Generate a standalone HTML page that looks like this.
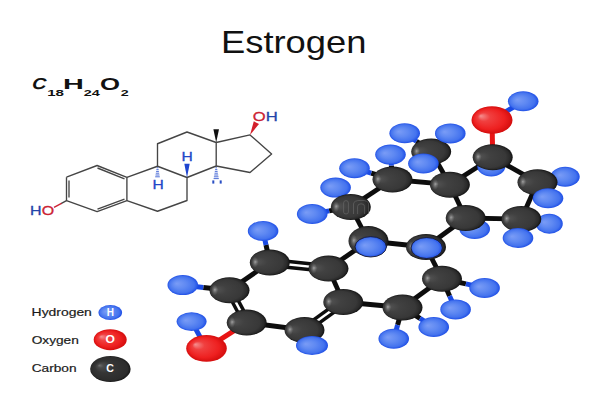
<!DOCTYPE html>
<html><head><meta charset="utf-8">
<style>
html,body{margin:0;padding:0;background:#fff;}
body{width:600px;height:400px;overflow:hidden;position:relative;font-family:"Liberation Sans",sans-serif;}
svg{position:absolute;left:0;top:0;}
</style></head><body>
<svg width="600" height="400" viewBox="0 0 600 400">
<defs>
<radialGradient id="gC" cx="0.5" cy="0.5" r="0.5" fx="0.13" fy="0.47">
<stop offset="0" stop-color="#6a6a6a"/><stop offset="0.12" stop-color="#4e4e4e"/><stop offset="0.35" stop-color="#414141"/><stop offset="0.8" stop-color="#383838"/><stop offset="0.92" stop-color="#2a2a2a"/><stop offset="1" stop-color="#121212"/>
</radialGradient>
<radialGradient id="gH" cx="0.5" cy="0.5" r="0.5" fx="0.3" fy="0.42">
<stop offset="0" stop-color="#7a9cf6"/><stop offset="0.45" stop-color="#5f89f2"/><stop offset="0.82" stop-color="#4473ee"/><stop offset="1" stop-color="#1f4fe6"/>
</radialGradient>
<radialGradient id="gO" cx="0.5" cy="0.5" r="0.5" fx="0.22" fy="0.35">
<stop offset="0" stop-color="#f59090"/><stop offset="0.3" stop-color="#f04040"/><stop offset="0.75" stop-color="#ee2020"/><stop offset="1" stop-color="#d40d0d"/>
</radialGradient>
<radialGradient id="gHi" cx="0.5" cy="0.5" r="0.5">
<stop offset="0" stop-color="#fff" stop-opacity="0.38"/><stop offset="0.5" stop-color="#fff" stop-opacity="0.16"/><stop offset="1" stop-color="#fff" stop-opacity="0"/>
</radialGradient>
<radialGradient id="gCL" cx="0.5" cy="0.5" r="0.5" fx="0.22" fy="0.36">
<stop offset="0" stop-color="#707070"/><stop offset="0.15" stop-color="#4a4a4a"/><stop offset="0.45" stop-color="#353535"/><stop offset="0.9" stop-color="#2c2c2c"/><stop offset="1" stop-color="#161616"/>
</radialGradient>
</defs>
<text transform="translate(221,52.9) scale(1.18,1)" font-family="Liberation Sans" font-size="30.8" fill="#111">Estrogen</text>
<g font-family="Liberation Sans" font-weight="bold" fill="#111">
<text transform="translate(31,89.3) scale(1.25,1) skewX(-12)" font-size="15.8">C</text>
<text transform="translate(47.2,95.5) scale(1.63,1)" font-size="9.3">18</text>
<text transform="translate(63,89) scale(1.9,1)" font-size="15.2">H</text>
<text transform="translate(83.7,95.5) scale(1.55,1)" font-size="9.3">24</text>
<text transform="translate(100,89.5) scale(1.64,1)" font-size="15.7">O</text>
<text transform="translate(120.7,95.5) scale(1.54,1)" font-size="9.3">2</text>
</g>
<g font-family="Liberation Sans" font-size="11.4" fill="#1a1a1a" stroke="#1a1a1a" stroke-width="0.2">
<text transform="translate(31.6,315.8) scale(1.22,1)">Hydrogen</text>
<text transform="translate(31.7,343.6) scale(1.2,1)">Oxygen</text>
<text transform="translate(31.7,371.8) scale(1.2,1)">Carbon</text>
</g>
<ellipse cx="110.3" cy="312.5" rx="11.8" ry="7.6" fill="url(#gH)"/>
<ellipse cx="110.2" cy="339.7" rx="16.5" ry="10.5" fill="url(#gO)"/>
<ellipse cx="110.4" cy="369" rx="20.2" ry="13.1" fill="url(#gCL)"/>
<g font-family="Liberation Sans" font-weight="bold" fill="#fff" text-anchor="middle">
<text x="110.3" y="316" font-size="10">H</text>
<text transform="translate(110.2,343.3) scale(1.15,1)" font-size="10.5">O</text>
<text x="110" y="372.2" font-size="10.6">C</text>
</g>
<g stroke="#454545" stroke-width="1.35" fill="none" stroke-linejoin="round">
<polyline points="66.5,177.2 97.1,165.5 126.9,177.4 126.9,200.6 97.1,211.6 66.5,200.6 66.5,177.2"/>
<line x1="69" y1="180.5" x2="69" y2="197.5"/>
<line x1="97.5" y1="168" x2="124.5" y2="178.8"/>
<line x1="97.5" y1="209.1" x2="124.5" y2="199.2"/>
<polyline points="126.9,177.4 157.5,166.25 187,177.5 187,200.5 157.5,211.25 126.9,200.6"/>
<polyline points="157.5,166.25 157.5,143.75 187,132 216.2,142.5 216.2,166 187,177.5"/>
<polyline points="216.2,142.5 250,134.9 271.6,154 250,172.5 216.2,166"/>
</g>
<line x1="66.5" y1="200.6" x2="61" y2="203.6" stroke="#454545" stroke-width="1.35"/>
<line x1="61.5" y1="203.3" x2="54" y2="207.4" stroke="#cc2233" stroke-width="1.35"/>
<polygon points="216.2,142.5 213.4,129.3 219,129.3" fill="#111"/>
<polygon points="250,134.9 253.8,121.3 259,124" fill="#d41f2a"/>
<polygon points="187,177.5 184.3,163.7 189.7,163.7" fill="#1f45d0"/>
<g stroke="#2f55d0" stroke-width="0.85">
<line x1="156.7" y1="167.8" x2="158.3" y2="167.8"/>
<line x1="156.4" y1="169.6" x2="158.6" y2="169.6"/>
<line x1="156.1" y1="171.4" x2="158.9" y2="171.4"/>
<line x1="155.8" y1="173.2" x2="159.2" y2="173.2"/>
<line x1="155.5" y1="175.0" x2="159.5" y2="175.0"/>
<line x1="155.2" y1="176.8" x2="159.8" y2="176.8"/>
<line x1="215.4" y1="167.8" x2="217.0" y2="167.8"/>
<line x1="215.1" y1="169.6" x2="217.3" y2="169.6"/>
<line x1="214.8" y1="171.4" x2="217.6" y2="171.4"/>
<line x1="214.5" y1="173.2" x2="217.9" y2="173.2"/>
<line x1="214.2" y1="175.0" x2="218.2" y2="175.0"/>
<line x1="213.9" y1="176.8" x2="218.5" y2="176.8"/>
<line x1="213.6" y1="178.6" x2="218.8" y2="178.6"/>
</g>
<g fill="#2a4fc4" stroke="none">
<rect x="212.3" y="180.4" width="2" height="3.2"/><rect x="219.7" y="180.4" width="2" height="3.2"/>
</g>
<g font-family="Liberation Sans" font-size="13.2" stroke-width="0.3">
<text transform="translate(30.1,214.6) scale(1.21,1)"><tspan fill="#2244aa" stroke="#2244aa">H</tspan><tspan fill="#cc2233" stroke="#cc2233">O</tspan></text>
<text transform="translate(252.7,121.4) scale(1.26,1)"><tspan fill="#cc2233" stroke="#cc2233">O</tspan><tspan fill="#2244aa" stroke="#2244aa">H</tspan></text>
<text transform="translate(152.6,189) scale(1.2,1)" fill="#2247c8" stroke="#2247c8" font-size="13">H</text>
<text transform="translate(181.6,161.3) scale(1.2,1)" fill="#2247c8" stroke="#2247c8" font-size="13">H</text>
</g>

<line x1="269.8" y1="262.5" x2="229.5" y2="290.3" stroke="#0d0d0d" stroke-width="4.8"/>
<line x1="246.7" y1="322.6" x2="304.5" y2="330.0" stroke="#0d0d0d" stroke-width="4.8"/>
<line x1="343.3" y1="302.0" x2="328.5" y2="268.6" stroke="#0d0d0d" stroke-width="4.8"/>
<line x1="328.5" y1="268.6" x2="368.5" y2="241.0" stroke="#0d0d0d" stroke-width="4.8"/>
<line x1="368.5" y1="241.0" x2="350.8" y2="207.0" stroke="#0d0d0d" stroke-width="4.8"/>
<line x1="368.5" y1="241.0" x2="426.0" y2="247.0" stroke="#0d0d0d" stroke-width="4.8"/>
<line x1="350.8" y1="207.0" x2="392.5" y2="179.5" stroke="#0d0d0d" stroke-width="4.8"/>
<line x1="392.5" y1="179.5" x2="449.9" y2="184.7" stroke="#0d0d0d" stroke-width="4.8"/>
<line x1="449.9" y1="184.7" x2="431.2" y2="151.6" stroke="#0d0d0d" stroke-width="4.8"/>
<line x1="449.9" y1="184.7" x2="492.7" y2="157.2" stroke="#0d0d0d" stroke-width="4.8"/>
<line x1="449.9" y1="184.7" x2="465.7" y2="218.0" stroke="#0d0d0d" stroke-width="4.8"/>
<line x1="465.7" y1="218.0" x2="426.0" y2="247.0" stroke="#0d0d0d" stroke-width="4.8"/>
<line x1="465.7" y1="218.0" x2="521.3" y2="219.0" stroke="#0d0d0d" stroke-width="4.8"/>
<line x1="521.3" y1="219.0" x2="537.5" y2="182.3" stroke="#0d0d0d" stroke-width="4.8"/>
<line x1="537.5" y1="182.3" x2="492.7" y2="157.2" stroke="#0d0d0d" stroke-width="4.8"/>
<line x1="426.0" y1="247.0" x2="442.0" y2="278.7" stroke="#0d0d0d" stroke-width="4.8"/>
<line x1="442.0" y1="278.7" x2="402.5" y2="307.5" stroke="#0d0d0d" stroke-width="4.8"/>
<line x1="402.5" y1="307.5" x2="343.3" y2="302.0" stroke="#0d0d0d" stroke-width="4.8"/>
<line x1="492.7" y1="157.2" x2="492.5" y2="146.0" stroke="#0d0d0d" stroke-width="5.0"/>
<line x1="492.5" y1="146.0" x2="492.0" y2="120.0" stroke="#e81414" stroke-width="5.0"/>
<line x1="492.0" y1="120.0" x2="501.4" y2="114.4" stroke="#e81414" stroke-width="5.0"/>
<line x1="501.4" y1="114.4" x2="523.2" y2="101.3" stroke="#1a4ae4" stroke-width="5.0"/>
<line x1="246.7" y1="322.6" x2="234.6" y2="330.3" stroke="#0d0d0d" stroke-width="5.0"/>
<line x1="234.6" y1="330.3" x2="206.5" y2="348.4" stroke="#e81414" stroke-width="5.0"/>
<line x1="206.5" y1="348.4" x2="202.0" y2="340.4" stroke="#e81414" stroke-width="5.0"/>
<line x1="202.0" y1="340.4" x2="191.6" y2="321.6" stroke="#1a4ae4" stroke-width="5.0"/>
<line x1="492.7" y1="157.2" x2="491.9" y2="162.4" stroke="#0d0d0d" stroke-width="5.0"/>
<line x1="491.9" y1="162.4" x2="491.3" y2="166.5" stroke="#1a4ae4" stroke-width="5.0"/>
<line x1="537.5" y1="182.3" x2="553.0" y2="179.2" stroke="#0d0d0d" stroke-width="5.0"/>
<line x1="553.0" y1="179.2" x2="565.2" y2="176.7" stroke="#1a4ae4" stroke-width="5.0"/>
<line x1="537.5" y1="182.3" x2="543.4" y2="191.2" stroke="#0d0d0d" stroke-width="5.0"/>
<line x1="543.4" y1="191.2" x2="548.0" y2="198.2" stroke="#1a4ae4" stroke-width="5.0"/>
<line x1="521.3" y1="219.0" x2="537.0" y2="221.6" stroke="#0d0d0d" stroke-width="5.0"/>
<line x1="537.0" y1="221.6" x2="549.3" y2="223.7" stroke="#1a4ae4" stroke-width="5.0"/>
<line x1="521.3" y1="219.0" x2="519.5" y2="229.6" stroke="#0d0d0d" stroke-width="5.0"/>
<line x1="519.5" y1="229.6" x2="518.0" y2="238.0" stroke="#1a4ae4" stroke-width="5.0"/>
<line x1="465.7" y1="218.0" x2="470.7" y2="224.2" stroke="#0d0d0d" stroke-width="5.0"/>
<line x1="470.7" y1="224.2" x2="474.7" y2="229.0" stroke="#1a4ae4" stroke-width="5.0"/>
<line x1="431.2" y1="151.6" x2="416.4" y2="141.3" stroke="#0d0d0d" stroke-width="5.0"/>
<line x1="416.4" y1="141.3" x2="404.7" y2="133.2" stroke="#1a4ae4" stroke-width="5.0"/>
<line x1="431.2" y1="151.6" x2="441.9" y2="141.4" stroke="#0d0d0d" stroke-width="5.0"/>
<line x1="441.9" y1="141.4" x2="450.3" y2="133.4" stroke="#1a4ae4" stroke-width="5.0"/>
<line x1="431.2" y1="151.6" x2="426.8" y2="158.3" stroke="#0d0d0d" stroke-width="5.0"/>
<line x1="426.8" y1="158.3" x2="423.4" y2="163.5" stroke="#1a4ae4" stroke-width="5.0"/>
<line x1="392.5" y1="179.5" x2="391.4" y2="165.6" stroke="#0d0d0d" stroke-width="5.0"/>
<line x1="391.4" y1="165.6" x2="390.5" y2="154.6" stroke="#1a4ae4" stroke-width="5.0"/>
<line x1="392.5" y1="179.5" x2="371.2" y2="173.2" stroke="#0d0d0d" stroke-width="5.0"/>
<line x1="371.2" y1="173.2" x2="354.5" y2="168.2" stroke="#1a4ae4" stroke-width="5.0"/>
<line x1="350.8" y1="207.0" x2="342.3" y2="196.1" stroke="#0d0d0d" stroke-width="5.0"/>
<line x1="342.3" y1="196.1" x2="335.6" y2="187.6" stroke="#1a4ae4" stroke-width="5.0"/>
<line x1="350.8" y1="207.0" x2="329.2" y2="210.9" stroke="#0d0d0d" stroke-width="5.0"/>
<line x1="329.2" y1="210.9" x2="312.2" y2="214.0" stroke="#1a4ae4" stroke-width="5.0"/>
<line x1="368.5" y1="241.0" x2="369.7" y2="244.2" stroke="#0d0d0d" stroke-width="5.0"/>
<line x1="369.7" y1="244.2" x2="370.7" y2="246.8" stroke="#1a4ae4" stroke-width="5.0"/>
<line x1="426.0" y1="247.0" x2="426.4" y2="247.6" stroke="#0d0d0d" stroke-width="5.0"/>
<line x1="426.4" y1="247.6" x2="426.7" y2="248.0" stroke="#1a4ae4" stroke-width="5.0"/>
<line x1="442.0" y1="278.7" x2="465.9" y2="283.9" stroke="#0d0d0d" stroke-width="5.0"/>
<line x1="465.9" y1="283.9" x2="484.6" y2="288.0" stroke="#1a4ae4" stroke-width="5.0"/>
<line x1="442.0" y1="278.7" x2="449.6" y2="295.9" stroke="#0d0d0d" stroke-width="5.0"/>
<line x1="449.6" y1="295.9" x2="455.6" y2="309.4" stroke="#1a4ae4" stroke-width="5.0"/>
<line x1="402.5" y1="307.5" x2="397.6" y2="325.0" stroke="#0d0d0d" stroke-width="5.0"/>
<line x1="397.6" y1="325.0" x2="393.8" y2="338.8" stroke="#1a4ae4" stroke-width="5.0"/>
<line x1="402.5" y1="307.5" x2="420.0" y2="318.4" stroke="#0d0d0d" stroke-width="5.0"/>
<line x1="420.0" y1="318.4" x2="433.8" y2="327.0" stroke="#1a4ae4" stroke-width="5.0"/>
<line x1="269.8" y1="262.5" x2="266.0" y2="244.9" stroke="#0d0d0d" stroke-width="5.0"/>
<line x1="266.0" y1="244.9" x2="263.1" y2="231.0" stroke="#1a4ae4" stroke-width="5.0"/>
<line x1="229.5" y1="290.3" x2="203.3" y2="287.4" stroke="#0d0d0d" stroke-width="5.0"/>
<line x1="203.3" y1="287.4" x2="182.8" y2="285.1" stroke="#1a4ae4" stroke-width="5.0"/>
<line x1="304.5" y1="330.0" x2="308.7" y2="338.7" stroke="#0d0d0d" stroke-width="5.0"/>
<line x1="308.7" y1="338.7" x2="312.0" y2="345.5" stroke="#1a4ae4" stroke-width="5.0"/>
<line x1="270.1" y1="259.6" x2="328.8" y2="265.7" stroke="#0d0d0d" stroke-width="3.5"/>
<line x1="269.5" y1="265.4" x2="328.2" y2="271.5" stroke="#0d0d0d" stroke-width="3.5"/>
<line x1="232.1" y1="288.9" x2="249.3" y2="321.2" stroke="#0d0d0d" stroke-width="3.5"/>
<line x1="226.9" y1="291.7" x2="244.1" y2="324.0" stroke="#0d0d0d" stroke-width="3.5"/>
<line x1="302.8" y1="327.6" x2="341.6" y2="299.6" stroke="#0d0d0d" stroke-width="3.5"/>
<line x1="306.2" y1="332.4" x2="345.0" y2="304.4" stroke="#0d0d0d" stroke-width="3.5"/>
<ellipse cx="491.3" cy="166.5" rx="14" ry="10" fill="url(#gH)"/>
<ellipse cx="492" cy="120" rx="20.5" ry="13.8" fill="url(#gO)"/>
<ellipse cx="523.2" cy="101.3" rx="15.3" ry="10" fill="url(#gH)"/>
<ellipse cx="492.7" cy="157.2" rx="20" ry="13" fill="url(#gC)"/>
<ellipse cx="477.9" cy="156.9" rx="3.4" ry="5.5" fill="url(#gHi)"/>
<ellipse cx="565.2" cy="176.7" rx="14.5" ry="10" fill="url(#gH)"/>
<ellipse cx="537.5" cy="182.3" rx="20" ry="13" fill="url(#gC)"/>
<ellipse cx="522.7" cy="182.0" rx="3.4" ry="5.5" fill="url(#gHi)"/>
<ellipse cx="548" cy="198.2" rx="15.3" ry="10" fill="url(#gH)"/>
<ellipse cx="549.3" cy="223.7" rx="13.5" ry="10" fill="url(#gH)"/>
<ellipse cx="521.3" cy="219" rx="20" ry="13" fill="url(#gC)"/>
<ellipse cx="506.5" cy="218.7" rx="3.4" ry="5.5" fill="url(#gHi)"/>
<ellipse cx="518" cy="238" rx="15.3" ry="10" fill="url(#gH)"/>
<ellipse cx="474.7" cy="229" rx="15.3" ry="10" fill="url(#gH)"/>
<ellipse cx="465.7" cy="218" rx="20" ry="13" fill="url(#gC)"/>
<ellipse cx="450.9" cy="217.7" rx="3.4" ry="5.5" fill="url(#gHi)"/>
<ellipse cx="449.9" cy="184.7" rx="20" ry="13" fill="url(#gC)"/>
<ellipse cx="435.1" cy="184.4" rx="3.4" ry="5.5" fill="url(#gHi)"/>
<ellipse cx="404.7" cy="133.2" rx="15.3" ry="10" fill="url(#gH)"/>
<ellipse cx="431.2" cy="151.6" rx="20" ry="13" fill="url(#gC)"/>
<ellipse cx="416.4" cy="151.3" rx="3.4" ry="5.5" fill="url(#gHi)"/>
<ellipse cx="450.3" cy="133.4" rx="15.3" ry="10" fill="url(#gH)"/>
<ellipse cx="423.4" cy="163.5" rx="15.3" ry="10" fill="url(#gH)"/>
<ellipse cx="390.5" cy="154.6" rx="15.3" ry="10" fill="url(#gH)"/>
<ellipse cx="392.5" cy="179.5" rx="20" ry="13" fill="url(#gC)"/>
<ellipse cx="377.7" cy="179.2" rx="3.4" ry="5.5" fill="url(#gHi)"/>
<ellipse cx="354.5" cy="168.2" rx="15.3" ry="10" fill="url(#gH)"/>
<ellipse cx="335.6" cy="187.6" rx="15.3" ry="10" fill="url(#gH)"/>
<ellipse cx="350.8" cy="207" rx="20" ry="13" fill="url(#gC)"/>
<ellipse cx="336.0" cy="206.7" rx="3.4" ry="5.5" fill="url(#gHi)"/>
<ellipse cx="312.2" cy="214" rx="15.3" ry="10" fill="url(#gH)"/>
<ellipse cx="368.5" cy="241" rx="20" ry="15" fill="url(#gC)"/>
<ellipse cx="353.7" cy="240.7" rx="3.4" ry="6.3" fill="url(#gHi)"/>
<ellipse cx="370.7" cy="246.8" rx="15.7" ry="10.2" fill="url(#gH)" stroke="#1a1a2a" stroke-width="0.9"/>
<ellipse cx="426" cy="247" rx="20" ry="13" fill="url(#gC)"/>
<ellipse cx="411.2" cy="246.7" rx="3.4" ry="5.5" fill="url(#gHi)"/>
<ellipse cx="426.7" cy="248" rx="15.7" ry="10.5" fill="url(#gH)" stroke="#1a1a2a" stroke-width="0.9"/>
<ellipse cx="484.6" cy="288" rx="15.3" ry="10" fill="url(#gH)"/>
<ellipse cx="455.6" cy="309.4" rx="15.3" ry="10" fill="url(#gH)"/>
<ellipse cx="442" cy="278.7" rx="20" ry="13" fill="url(#gC)"/>
<ellipse cx="427.2" cy="278.4" rx="3.4" ry="5.5" fill="url(#gHi)"/>
<ellipse cx="393.75" cy="338.75" rx="15.3" ry="10" fill="url(#gH)"/>
<ellipse cx="433.75" cy="327" rx="15.3" ry="10" fill="url(#gH)"/>
<ellipse cx="402.5" cy="307.5" rx="20" ry="13" fill="url(#gC)"/>
<ellipse cx="387.7" cy="307.2" rx="3.4" ry="5.5" fill="url(#gHi)"/>
<ellipse cx="343.3" cy="302" rx="20" ry="13" fill="url(#gC)"/>
<ellipse cx="328.5" cy="301.7" rx="3.4" ry="5.5" fill="url(#gHi)"/>
<ellipse cx="328.5" cy="268.6" rx="20" ry="13" fill="url(#gC)"/>
<ellipse cx="313.7" cy="268.3" rx="3.4" ry="5.5" fill="url(#gHi)"/>
<ellipse cx="263.1" cy="231" rx="15.3" ry="10" fill="url(#gH)"/>
<ellipse cx="269.8" cy="262.5" rx="20" ry="13" fill="url(#gC)"/>
<ellipse cx="255.0" cy="262.2" rx="3.4" ry="5.5" fill="url(#gHi)"/>
<ellipse cx="182.8" cy="285.1" rx="15.3" ry="10" fill="url(#gH)"/>
<ellipse cx="229.5" cy="290.3" rx="20" ry="13" fill="url(#gC)"/>
<ellipse cx="214.7" cy="290.0" rx="3.4" ry="5.5" fill="url(#gHi)"/>
<ellipse cx="191.6" cy="321.6" rx="15" ry="9.3" fill="url(#gH)"/>
<ellipse cx="206.5" cy="348.4" rx="20.3" ry="13.4" fill="url(#gO)"/>
<ellipse cx="246.7" cy="322.6" rx="20" ry="13" fill="url(#gC)"/>
<ellipse cx="231.9" cy="322.3" rx="3.4" ry="5.5" fill="url(#gHi)"/>
<ellipse cx="304.5" cy="330" rx="20" ry="13" fill="url(#gC)"/>
<ellipse cx="289.7" cy="329.7" rx="3.4" ry="5.5" fill="url(#gHi)"/>
<ellipse cx="312" cy="345.5" rx="16" ry="9.5" fill="url(#gH)"/>
<g fill="none" stroke="#707070" stroke-width="0.8" opacity="0.7">
<path d="M343.6,212 V203 Q343.6,200.6 346,200.6 Q348.4,200.6 348.4,203 V212 Q348.4,214 346,214 Q343.6,214 343.6,212 Z"/>
<path d="M353.5,214 V204 Q353.5,200.4 361,200.4 Q368.6,200.4 368.6,204 V214 M357.6,214 V206.5 Q357.6,203.8 361.1,203.8 Q364.6,203.8 364.6,206.5 V214"/>
</g>
</svg>
</body></html>
